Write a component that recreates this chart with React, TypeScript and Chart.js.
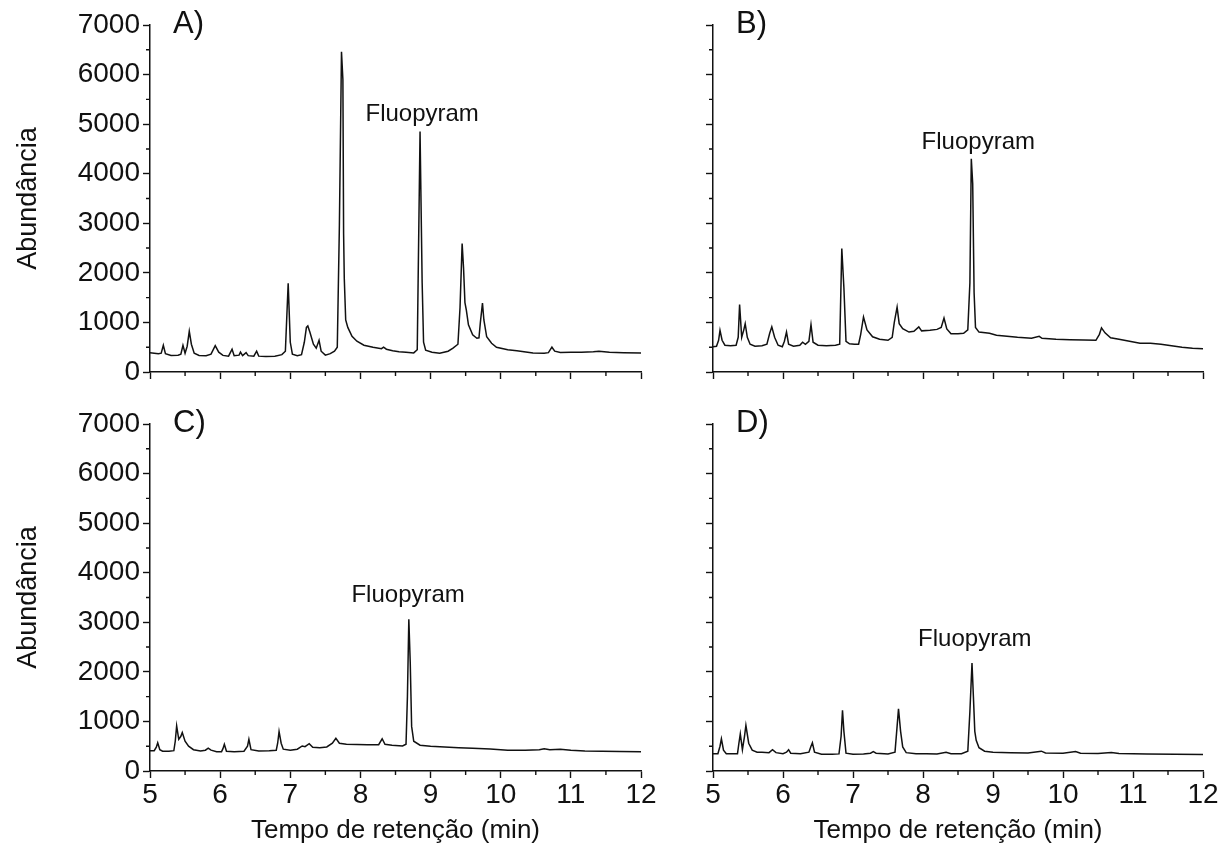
import React, { useEffect, useRef } from 'react';
import { Chart, registerables } from 'chart.js';

Chart.register(...registerables);

const FONT = '"Liberation Sans", Arial, Helvetica, sans-serif';
const INK = '#111111';

// ---- axis ticks / labels ----
const xTickValues = [5, 6, 7, 8, 9, 10, 11, 12];
const xTickLabels = ['5', '6', '7', '8', '9', '10', '11', '12'];
const xMinorTicks = [5.5, 6.5, 7.5, 8.5, 9.5, 10.5, 11.5];
const yTickValues = [0, 1000, 2000, 3000, 4000, 5000, 6000, 7000];
const yTickLabels = ['0', '1000', '2000', '3000', '4000', '5000', '6000', '7000'];
const yMinorTicks = [500, 1500, 2500, 3500, 4500, 5500, 6500];
const xAxisTitle = 'Tempo de retenção (min)';
const yAxisTitle = 'Abundância';
const panelLabels = ['A)', 'B)', 'C)', 'D)'];
const compoundLabel = 'Fluopyram';

// ---- chromatogram A ----
const timeA = [5.00,5.06,5.12,5.16,5.19,5.22,5.30,5.40,5.44,5.47,5.50,5.53,5.56,5.59,5.63,5.70,5.80,5.87,5.93,5.98,6.04,6.12,6.17,6.20,6.27,6.29,6.32,6.37,6.40,6.48,6.52,6.55,6.65,6.78,6.88,6.93,6.97,7.00,7.03,7.10,7.16,7.20,7.23,7.25,7.28,7.33,7.37,7.41,7.44,7.50,7.57,7.63,7.67,7.70,7.73,7.75,7.76,7.77,7.79,7.82,7.88,7.95,8.05,8.18,8.30,8.33,8.37,8.46,8.55,8.65,8.76,8.81,8.85,8.88,8.90,8.93,9.02,9.13,9.25,9.32,9.39,9.42,9.45,9.47,9.49,9.51,9.54,9.60,9.66,9.69,9.71,9.74,9.76,9.80,9.87,9.94,10.10,10.23,10.46,10.62,10.68,10.73,10.77,10.85,11.00,11.15,11.32,11.40,11.55,11.75,12.00];
const abundA = [390,380,370,380,540,370,335,340,360,540,380,520,820,560,380,335,330,360,530,400,335,320,460,330,340,400,330,390,330,320,420,320,315,320,350,420,1790,600,360,330,350,600,900,930,800,560,480,640,420,340,370,420,500,2950,6460,5900,2800,1880,1050,900,720,620,540,500,470,500,460,430,410,400,385,450,4850,1800,600,440,400,380,420,480,560,1300,2590,2100,1400,1250,950,750,680,690,1000,1390,1050,710,580,500,450,430,385,380,390,500,420,395,400,400,410,420,400,390,385];

// ---- chromatogram B ----
const timeB = [5.00,5.05,5.08,5.10,5.13,5.17,5.25,5.33,5.36,5.38,5.41,5.44,5.46,5.49,5.53,5.60,5.70,5.77,5.81,5.84,5.88,5.93,5.99,6.02,6.05,6.08,6.15,6.24,6.28,6.32,6.37,6.40,6.43,6.50,6.62,6.75,6.81,6.84,6.87,6.90,6.95,7.02,7.08,7.11,7.15,7.20,7.28,7.38,7.50,7.56,7.59,7.63,7.66,7.71,7.80,7.87,7.94,7.98,8.10,8.20,8.26,8.30,8.34,8.40,8.50,8.58,8.64,8.67,8.69,8.71,8.73,8.75,8.80,8.95,9.05,9.20,9.35,9.55,9.66,9.70,9.90,10.10,10.30,10.47,10.52,10.55,10.60,10.68,10.80,10.95,11.10,11.25,11.40,11.55,11.70,11.85,12.00];
const abundB = [510,520,640,840,640,540,530,540,700,1360,700,850,975,700,560,520,530,560,780,910,700,540,510,620,805,560,520,540,600,560,620,955,600,540,530,540,560,2490,1700,620,570,560,560,760,1110,850,710,660,640,700,1000,1310,975,875,805,820,910,830,840,860,900,1090,870,770,770,780,850,1800,4300,3800,1600,900,805,780,740,720,700,680,720,680,660,650,645,640,760,890,790,690,660,620,580,580,560,530,500,480,470];

// ---- chromatogram C ----
const timeC = [5.00,5.06,5.09,5.11,5.14,5.18,5.27,5.34,5.36,5.38,5.41,5.44,5.46,5.50,5.55,5.62,5.72,5.79,5.83,5.87,5.95,6.02,6.04,6.06,6.09,6.20,6.34,6.39,6.41,6.44,6.55,6.70,6.80,6.82,6.84,6.87,6.90,7.00,7.10,7.17,7.21,7.27,7.32,7.42,7.52,7.60,7.65,7.70,7.80,7.95,8.10,8.26,8.31,8.35,8.45,8.60,8.65,8.67,8.69,8.71,8.73,8.76,8.85,9.00,9.20,9.40,9.60,9.85,10.10,10.35,10.55,10.62,10.70,10.85,11.00,11.20,11.45,11.70,12.00];
const abundC = [410,410,480,570,430,400,400,410,600,910,640,700,775,600,500,430,405,420,460,420,390,390,450,540,400,390,400,500,640,430,405,410,420,560,795,560,440,420,440,505,490,550,480,470,485,560,660,560,540,535,530,530,650,540,520,505,540,1500,3060,2200,900,600,520,500,485,470,460,445,420,420,430,450,430,440,420,405,400,395,390];

// ---- chromatogram D ----
const timeD = [5.00,5.07,5.10,5.12,5.15,5.19,5.28,5.35,5.37,5.39,5.42,5.45,5.47,5.51,5.56,5.63,5.70,5.80,5.85,5.90,6.00,6.05,6.08,6.11,6.25,6.37,6.40,6.42,6.45,6.55,6.70,6.80,6.83,6.85,6.87,6.90,7.00,7.15,7.25,7.29,7.33,7.50,7.60,7.63,7.65,7.68,7.71,7.76,7.90,8.05,8.20,8.33,8.40,8.55,8.64,8.67,8.70,8.72,8.74,8.76,8.80,8.88,9.00,9.25,9.50,9.69,9.75,10.00,10.18,10.25,10.50,10.69,10.80,11.20,11.60,12.00];
const abundD = [350,350,500,650,420,350,350,350,560,750,430,700,920,560,420,380,380,370,430,370,350,380,430,360,350,380,500,570,380,340,340,345,700,1225,800,360,340,345,360,390,360,345,380,900,1255,800,485,370,350,350,345,380,350,350,400,1200,2180,1500,800,620,470,400,380,370,365,400,365,360,395,360,355,375,355,345,340,335];

type PanelCfg = {
  key: string;
  left: number; top: number; width: number; height: number;
  yW: number; xH: number; padTop: number; padRight: number;
  showYLabels: boolean; showXLabels: boolean;
  times: number[]; values: number[];
  label: string;
  fluoAt: { x: number; y: number };
};

const panels: PanelCfg[] = [
  { key: 'A', left: 0, top: 0, width: 665, height: 420, yW: 150, xH: 48, padTop: 25, padRight: 24,
    showYLabels: true, showXLabels: false, times: timeA, values: abundA, label: panelLabels[0], fluoAt: { x: 8.88, y: 5200 } },
  { key: 'B', left: 660, top: 0, width: 570, height: 420, yW: 53, xH: 48, padTop: 25, padRight: 27,
    showYLabels: false, showXLabels: false, times: timeB, values: abundB, label: panelLabels[1], fluoAt: { x: 8.79, y: 4640 } },
  { key: 'C', left: 0, top: 380, width: 665, height: 476, yW: 150, xH: 85, padTop: 44, padRight: 24,
    showYLabels: true, showXLabels: true, times: timeC, values: abundC, label: panelLabels[2], fluoAt: { x: 8.68, y: 3550 } },
  { key: 'D', left: 660, top: 380, width: 570, height: 476, yW: 53, xH: 85, padTop: 44, padRight: 27,
    showYLabels: false, showXLabels: true, times: timeD, values: abundD, label: panelLabels[3], fluoAt: { x: 8.74, y: 2660 } },
];

function Panel({ cfg }: { cfg: PanelCfg }) {
  const ref = useRef<HTMLCanvasElement>(null);
  useEffect(() => {
    const canvas = ref.current;
    if (!canvas) return;
    const n = Math.min(cfg.times.length, cfg.values.length);
    const points = [] as { x: number; y: number }[];
    for (let i = 0; i < n; i++) points.push({ x: cfg.times[i], y: cfg.values[i] });

    const overlay = {
      id: 'overlay' + cfg.key,
      afterDraw(chart: any) {
        const { ctx, chartArea } = chart;
        const xs = chart.scales.x;
        const ys = chart.scales.y;
        ctx.save();
        ctx.strokeStyle = INK;
        ctx.lineWidth = 1.4;
        ctx.beginPath();
        for (const v of xMinorTicks) {
          const px = xs.getPixelForValue(v);
          ctx.moveTo(px, chartArea.bottom);
          ctx.lineTo(px, chartArea.bottom + 4);
        }
        for (const v of yMinorTicks) {
          const py = ys.getPixelForValue(v);
          ctx.moveTo(chartArea.left, py);
          ctx.lineTo(chartArea.left - 4, py);
        }
        ctx.stroke();

        ctx.fillStyle = INK;
        ctx.font = `31px ${FONT}`;
        ctx.textAlign = 'left';
        ctx.textBaseline = 'alphabetic';
        ctx.fillText(cfg.label, chartArea.left + 23, chartArea.top + 8);

        ctx.font = `24px ${FONT}`;
        ctx.textAlign = 'center';
        ctx.textBaseline = 'middle';
        ctx.fillText(compoundLabel, xs.getPixelForValue(cfg.fluoAt.x), ys.getPixelForValue(cfg.fluoAt.y));
        ctx.restore();
      },
    };

    const chart = new Chart(canvas, {
      type: 'line',
      data: {
        datasets: [{
          data: points,
          borderColor: INK,
          borderWidth: 1.5,
          pointRadius: 0,
          tension: 0,
          fill: false,
        }],
      },
      options: {
        responsive: false,
        animation: false,
        events: [],
        layout: { padding: { top: cfg.padTop, right: cfg.padRight, left: 0, bottom: 0 } },
        plugins: { legend: { display: false }, tooltip: { enabled: false } },
        scales: {
          x: {
            type: 'linear',
            min: 5,
            max: 12,
            afterBuildTicks: (s: any) => { s.ticks = xTickValues.map((v) => ({ value: v })); },
            afterFit: (s: any) => { s.height = cfg.xH; },
            grid: { display: true, drawOnChartArea: false, drawTicks: true, tickLength: 7, tickWidth: 1.4, tickColor: INK },
            border: { display: true, color: INK, width: 1.5 },
            ticks: {
              autoSkip: false,
              maxRotation: 0,
              padding: 0,
              color: INK,
              font: { family: FONT, size: 28 },
              callback: (_v: any, i: number) => (cfg.showXLabels ? xTickLabels[i] : ''),
            },
            title: {
              display: cfg.showXLabels,
              text: xAxisTitle,
              color: INK,
              font: { family: FONT, size: 26 },
              padding: { top: 0, bottom: 10 },
            },
          },
          y: {
            type: 'linear',
            position: 'left',
            min: 0,
            max: 7000,
            afterBuildTicks: (s: any) => { s.ticks = yTickValues.map((v) => ({ value: v })); },
            afterFit: (s: any) => { s.width = cfg.yW; },
            grid: { display: true, drawOnChartArea: false, drawTicks: true, tickLength: 7, tickWidth: 1.4, tickColor: INK },
            border: { display: true, color: INK, width: 1.5 },
            ticks: {
              autoSkip: false,
              padding: 3,
              color: INK,
              font: { family: FONT, size: 28 },
              callback: (_v: any, i: number) => (cfg.showYLabels ? yTickLabels[i] : ''),
            },
            title: {
              display: cfg.showYLabels,
              text: yAxisTitle,
              color: INK,
              font: { family: FONT, size: 27 },
              padding: { top: 12, bottom: 0 },
            },
          },
        },
      },
      plugins: [overlay],
    } as any);
    return () => chart.destroy();
  }, [cfg]);

  return (
    <canvas
      ref={ref}
      width={cfg.width}
      height={cfg.height}
      style={{ position: 'absolute', left: cfg.left, top: cfg.top, width: cfg.width, height: cfg.height }}
    />
  );
}

export default function App() {
  return (
    <div style={{ position: 'fixed', left: 0, top: 0, width: 1230, height: 856, background: '#ffffff', overflow: 'hidden' }}>
      {panels.map((p) => (
        <Panel key={p.key} cfg={p} />
      ))}
    </div>
  );
}
